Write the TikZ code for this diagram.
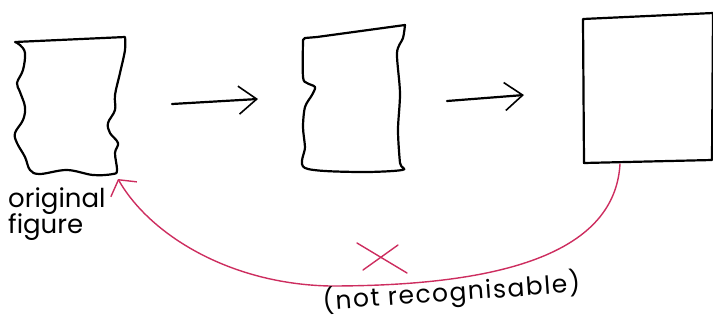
\documentclass[tikz,border=0pt]{standalone}
\usepackage{fontspec}
\setmainfont{Poppins}
\usetikzlibrary{arrows.meta}
\definecolor{penred}{RGB}{205,45,95}
\begin{document}
\begin{tikzpicture}[x=1pt, y=-1pt,
        pen/.style={draw, line width=2.2pt, line join=round, line cap=round},
        redpen/.style={draw=penred, line width=1.4pt, line cap=round},
        scrawl/.style={font=\fontsize{#1}{#1}\selectfont, text=black, inner sep=0pt},
        barb/.style={-{Straight Barb[length=18pt, width=28pt, line width=1.6pt]}},
    ]
    \useasboundingbox (0,0) rectangle (713,322);

    % original figure
    \draw[pen] plot[smooth, tension=0.6] coordinates {
        (15,42) (20,45) (25,53) (23,70) (17,83) (20,92) (25,107) (23,120)
        (15,133) (17,143) (25,157) (30,170) (40,174) (67,170) (93,175)
        (113,174) (117,170) (115,153) (118,143) (110,133) (108,123)
        (115,110) (115,95) (120,73) (125,50) (125,37)} -- cycle;
    % middle figure
    \draw[pen] plot[smooth, tension=0.5] coordinates {
        (303,40) (303,77) (307,83) (315,87) (312,95) (305,107) (303,127)
        (305,147) (305,168) (357,172) (402,170) (400,163) (398,130)
        (400,93) (397,53) (403,38) (405,25)} -- (317,37) -- (305,38) -- cycle;
    % last figure
    \draw[pen] (583,19) -- (713,13) -- (712,160) -- (584,163) -- cycle;

    \coordinate (orig) at (118,179);
    \coordinate (last) at (620,164);
    \coordinate (a1s) at (172,104);
    \coordinate (a1e) at (258,99);
    \coordinate (a2s) at (447,101);
    \coordinate (a2e) at (524,95);

    \draw[pen, barb] (a1s) -- (a1e);
    \draw[pen, barb] (a2s) -- (a2e);

    \draw[redpen, -{Straight Barb[length=11pt, width=30pt, line width=1.4pt]}]
        (last) .. controls (615,250) and (510,286) .. (330,286)
        .. controls (230,284) and (150,235) .. (orig);

    % cross on the curve
    \coordinate (x1) at (357,243);
    \coordinate (x2) at (407,273);
    \coordinate (x3) at (398,245);
    \coordinate (x4) at (363,270);
    \draw[redpen] (x1) -- (x2);
    \draw[redpen] (x3) -- (x4);

    \node[scrawl=26, align=left, anchor=north west]
        (origlabel) at (8,188) {original\\[-2pt]figure};
    \node[scrawl=25, rotate=4, anchor=base] (notlabel) at (452,301)
        {\addfontfeature{LetterSpace=6}(not recognisable)};
\end{tikzpicture}
\end{document}
